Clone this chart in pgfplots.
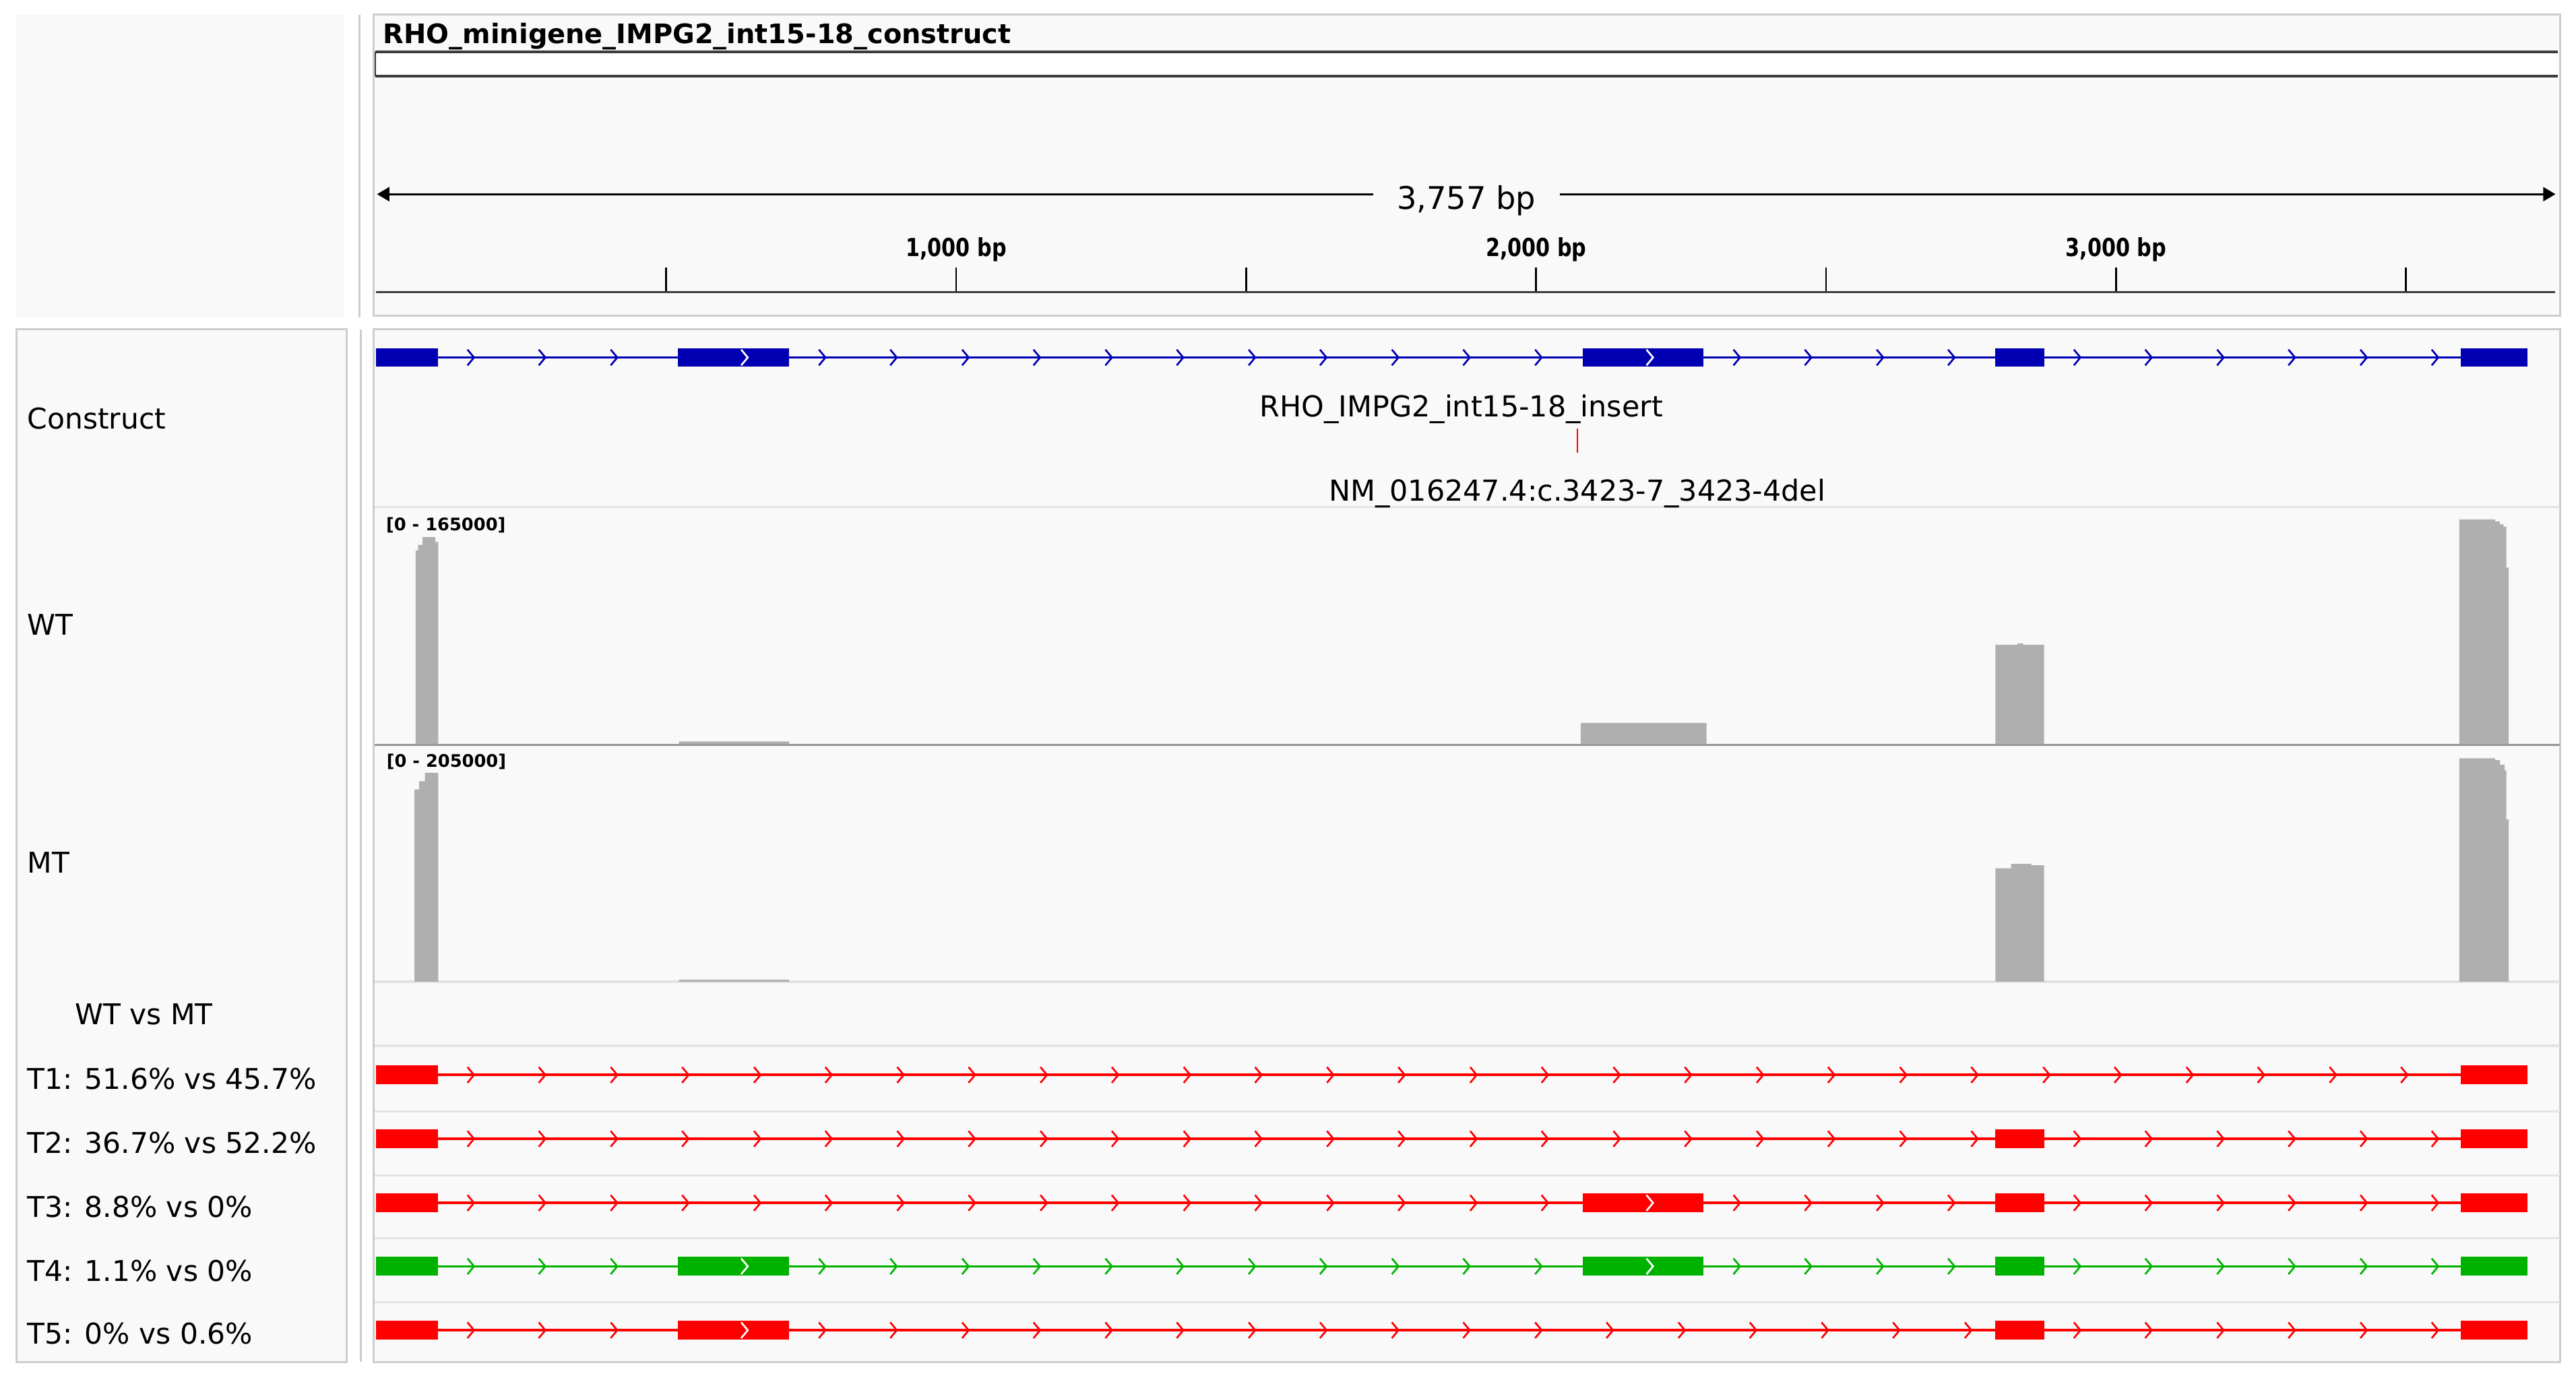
\documentclass[border=0pt]{standalone}
\usepackage{pgfplots}
\pgfplotsset{compat=1.18}
\usepackage{fontspec}
\setmainfont{DejaVu Sans}
\usepackage{graphicx}
\usetikzlibrary{arrows.meta}

\definecolor{panelbg}{RGB}{249,249,249}
\definecolor{panelline}{RGB}{205,205,205}
\definecolor{sepline}{RGB}{228,228,228}
\definecolor{basegray}{RGB}{150,150,150}
\definecolor{covgray}{RGB}{175,175,175}
\definecolor{idline}{RGB}{60,60,60}
\definecolor{igvblue}{RGB}{0,0,178}
\definecolor{igvred}{RGB}{255,0,0}
\definecolor{igvgreen}{RGB}{0,178,0}

\newcommand\labfont{\fontsize{9.9}{12}\selectfont}
\newcommand\featfont{\fontsize{10}{12}\selectfont}
\newcommand\titlefont{\bfseries\fontsize{9.3}{11}\selectfont}
\newcommand\spanfont{\fontsize{10.8}{13}\selectfont}
\newcommand\rulefont{\bfseries\fontsize{8.6}{10}\selectfont}
\newcommand\rangefont{\bfseries\fontsize{6}{7}\selectfont}

% the little ">" drawn along introns
\pgfdeclareplotmark{chev}{%
  \pgfpathmoveto{\pgfqpoint{-0.4mm}{0.96mm}}%
  \pgfpathlineto{\pgfqpoint{0.4mm}{0mm}}%
  \pgfpathlineto{\pgfqpoint{-0.4mm}{-0.96mm}}%
  \pgfusepathqstroke}

\pgfplotsset{
  trackbase/.style={scale only axis, width=265.24mm, xmin=0, xmax=3757,
    hide axis, clip=false, anchor=south west},
  genetrack/.style={trackbase, height=4mm, ymin=-1, ymax=1, unbounded coords=jump},
  intron/.style={line width=0.3mm, mark=none},
  exon/.style={line width=2.28mm, line cap=butt, mark=none},
  chevron/.style={only marks, mark=chev, mark options={solid, line width=0.22mm}},
}

\begin{document}
\begin{tikzpicture}
% layout in screen pixels of the 1568 px wide view
\begin{scope}[x=0.2mm,y=-0.2mm]
  \fill[white] (0,0) rectangle (1568,841);
  % panels
  \fill[panelbg] (10,9) rectangle (209,193);
  \draw[panelline, line width=0.24mm] (219,9) -- (219,193);
  \draw[panelline, fill=panelbg, line width=0.24mm] (227.5,9) rectangle (1558.5,192);
  \draw[panelline, fill=panelbg, line width=0.24mm] (10,200.5) rectangle (211,829);
  \draw[panelline, line width=0.24mm] (219.5,200.5) -- (219.5,829);
  \draw[panelline, fill=panelbg, line width=0.24mm] (227.5,200.5) rectangle (1558.5,829);

  % header
  \node[anchor=base west, inner sep=0, font=\titlefont] at (233,26.5)
    {RHO\_minigene\_IMPG2\_int15-18\_construct};
  \fill[white] (228.5,31.7) rectangle (1557,46.2);
  \draw[idline, line width=0.32mm] (228.5,31.7) -- (1557,31.7);
  \draw[idline, line width=0.32mm] (228.5,46.2) -- (1557,46.2);
  \draw[idline, line width=0.2mm] (228.5,31.7) -- (228.5,46.2);

  \draw[black, line width=0.26mm, -{Triangle[length=1.5mm,width=1.7mm]}] (836,118.2) -- (229.5,118.2);
  \draw[black, line width=0.26mm, -{Triangle[length=1.5mm,width=1.7mm]}] (949.6,118.2) -- (1555.5,118.2);
  \node[anchor=base, inner sep=0, font=\spanfont] at (892.5,127.2) {3,757 bp};

  \node[anchor=base, inner sep=0, font=\rulefont] at (582,155.9) {\scalebox{0.82}[1]{1,000 bp}};
  \node[anchor=base, inner sep=0, font=\rulefont] at (935,155.9) {\scalebox{0.82}[1]{2,000 bp}};
  \node[anchor=base, inner sep=0, font=\rulefont] at (1288,155.9) {\scalebox{0.82}[1]{3,000 bp}};

  % track separators
  \foreach \yy in {308.7,597.5,636.6,676.5,715.4,753.6,792.5}
    \draw[sepline, line width=0.28mm] (228,\yy) -- (1558,\yy);
  \draw[basegray, line width=0.26mm] (228,453.3) -- (1558,453.3);

  % track names
  \node[anchor=base west, inner sep=0, font=\labfont] at (16.3,260.9) {Construct};
  \node[anchor=base west, inner sep=0, font=\labfont] at (16.3,386.5) {WT};
  \node[anchor=base west, inner sep=0, font=\labfont] at (16.3,531.5) {MT};
  \node[anchor=base west, inner sep=0, font=\labfont] at (45.2,623.5) {WT vs MT};
  \node[anchor=base west, inner sep=0, font=\labfont] at (16.3,663.1) {T1: 51.6\% vs 45.7\%};
  \node[anchor=base west, inner sep=0, font=\labfont] at (16.3,702.1) {T2: 36.7\% vs 52.2\%};
  \node[anchor=base west, inner sep=0, font=\labfont] at (16.3,741.0) {T3: 8.8\% vs 0\%};
  \node[anchor=base west, inner sep=0, font=\labfont] at (16.3,780.0) {T4: 1.1\% vs 0\%};
  \node[anchor=base west, inner sep=0, font=\labfont] at (16.3,818.2) {T5: 0\% vs 0.6\%};

  % feature names
  \node[anchor=base, inner sep=0, font=\featfont] at (889.5,253.8) {RHO\_IMPG2\_int15-18\_insert};
  \node[anchor=base, inner sep=0, font=\featfont] at (960,305.1) {NM\_016247.4:c.3423-7\_3423-4del};
  \node[anchor=west, inner sep=0, font=\rangefont] at (234.7,319.6) {[0 - 165000]};
  \node[anchor=west, inner sep=0, font=\rangefont] at (235,463.5) {[0 - 205000]};

  \coordinate (rul) at (229,177.8);
  \coordinate (con) at (229,227.6);
  \coordinate (wt)  at (229,453);
  \coordinate (mt)  at (229,597.5);
  \coordinate (t1)  at (229,664.3);
  \coordinate (t2)  at (229,703.2);
  \coordinate (t3)  at (229,742.2);
  \coordinate (t4)  at (229,780.8);
  \coordinate (t5)  at (229,819.7);
\end{scope}

% ruler
\begin{axis}[scale only axis, width=265.24mm, height=3mm, xmin=0, xmax=3757, ymin=0, ymax=1,
  at={(rul)}, anchor=south west,
  axis x line*=bottom, axis y line=none,
  x axis line style={line width=0.32mm, draw=idline},
  xtick={500,1000,1500,2000,2500,3000,3500}, xticklabels={},
  tick align=inside, major tick length=3mm,
  xtick style={line width=0.22mm, black}]
  \addplot[draw=none] coordinates {(0,0)};
\end{axis}

% construct
\begin{axis}[genetrack, at={(con)}]
  \addplot[igvblue, intron] coordinates {(0,0) (3710,0)};
  \addplot[igvblue, exon] coordinates {(0,0) (106,0) (300,nan) (520,0) (712,0) (1500,nan)
    (2080,0) (2289,0) (2500,nan) (2792,0) (2876,0) (3200,nan) (3595,0) (3710,0)};
  \addplot[igvblue, chevron] coordinates {(163,0) (286,0) (410,0) (769,0) (892,0) (1016,0)
    (1139,0) (1263,0) (1386,0) (1510,0) (1633,0) (1757,0) (1880,0) (2004,0) (2346,0)
    (2469,0) (2593,0) (2716,0) (2933,0) (3056,0) (3180,0) (3303,0) (3427,0) (3550,0)};
  \addplot[white, chevron] coordinates {(635,0) (2196,0)};
  \addplot[igvred, line width=0.2mm] coordinates {(2071,-4.34) (2071,-5.79)};
\end{axis}

% WT coverage
\begin{axis}[trackbase, at={(wt)}, height=28.6mm, ymin=0, ymax=165000]
  \addplot[fill=covgray, draw=none, const plot] coordinates {(0,0) (68,136000) (72,140000)
    (80,145500) (102,142000) (107,0) (522,2000) (712,0) (2077,15000) (2294,0)
    (2792,69800) (2830,70800) (2840,69800) (2876,0) (3592,157900) (3654,156500)
    (3662,154500) (3668,152800) (3673,124000) (3677,0) (3757,0)} \closedcycle;
\end{axis}

% MT coverage
\begin{axis}[trackbase, at={(mt)}, height=28.5mm, ymin=0, ymax=205000]
  \addplot[fill=covgray, draw=none, const plot] coordinates {(0,0) (66,168300) (74,175500)
    (84,182900) (107,0) (522,1800) (712,0) (2792,99200) (2819,103000) (2854,101900)
    (2876,0) (3592,195600) (3654,194000) (3662,190000) (3670,185000) (3673,142000)
    (3677,0) (3757,0)} \closedcycle;
\end{axis}

% T1
\begin{axis}[genetrack, at={(t1)}]
  \addplot[igvred, intron] coordinates {(0,0) (3710,0)};
  \addplot[igvred, exon] coordinates {(0,0) (106,0) (2000,nan) (3595,0) (3710,0)};
  \addplot[igvred, chevron] coordinates {(163,0) (286,0) (410,0) (533,0) (657,0) (780,0)
    (904,0) (1027,0) (1151,0) (1274,0) (1398,0) (1521,0) (1645,0) (1768,0) (1892,0)
    (2015,0) (2139,0) (2262,0) (2386,0) (2509,0) (2633,0) (2756,0) (2880,0) (3003,0)
    (3127,0) (3250,0) (3374,0) (3497,0)};
\end{axis}

% T2
\begin{axis}[genetrack, at={(t2)}]
  \addplot[igvred, intron] coordinates {(0,0) (3710,0)};
  \addplot[igvred, exon] coordinates {(0,0) (106,0) (1500,nan) (2792,0) (2876,0) (3200,nan)
    (3595,0) (3710,0)};
  \addplot[igvred, chevron] coordinates {(163,0) (286,0) (410,0) (533,0) (657,0) (780,0)
    (904,0) (1027,0) (1151,0) (1274,0) (1398,0) (1521,0) (1645,0) (1768,0) (1892,0)
    (2015,0) (2139,0) (2262,0) (2386,0) (2509,0) (2633,0) (2756,0) (2933,0) (3056,0)
    (3180,0) (3303,0) (3427,0) (3550,0)};
\end{axis}

% T3
\begin{axis}[genetrack, at={(t3)}]
  \addplot[igvred, intron] coordinates {(0,0) (3710,0)};
  \addplot[igvred, exon] coordinates {(0,0) (106,0) (1000,nan) (2080,0) (2289,0) (2500,nan)
    (2792,0) (2876,0) (3200,nan) (3595,0) (3710,0)};
  \addplot[igvred, chevron] coordinates {(163,0) (286,0) (410,0) (533,0) (657,0) (780,0)
    (904,0) (1027,0) (1151,0) (1274,0) (1398,0) (1521,0) (1645,0) (1768,0) (1892,0)
    (2015,0) (2346,0) (2469,0) (2593,0) (2716,0) (2933,0) (3056,0) (3180,0) (3303,0)
    (3427,0) (3550,0)};
  \addplot[white, chevron] coordinates {(2196,0)};
\end{axis}

% T4
\begin{axis}[genetrack, at={(t4)}]
  \addplot[igvgreen, intron] coordinates {(0,0) (3710,0)};
  \addplot[igvgreen, exon] coordinates {(0,0) (106,0) (300,nan) (520,0) (712,0) (1500,nan)
    (2080,0) (2289,0) (2500,nan) (2792,0) (2876,0) (3200,nan) (3595,0) (3710,0)};
  \addplot[igvgreen, chevron] coordinates {(163,0) (286,0) (410,0) (769,0) (892,0) (1016,0)
    (1139,0) (1263,0) (1386,0) (1510,0) (1633,0) (1757,0) (1880,0) (2004,0) (2346,0)
    (2469,0) (2593,0) (2716,0) (2933,0) (3056,0) (3180,0) (3303,0) (3427,0) (3550,0)};
  \addplot[white, chevron] coordinates {(635,0) (2196,0)};
\end{axis}

% T5
\begin{axis}[genetrack, at={(t5)}]
  \addplot[igvred, intron] coordinates {(0,0) (3710,0)};
  \addplot[igvred, exon] coordinates {(0,0) (106,0) (300,nan) (520,0) (712,0) (1500,nan)
    (2792,0) (2876,0) (3200,nan) (3595,0) (3710,0)};
  \addplot[igvred, chevron] coordinates {(163,0) (286,0) (410,0) (769,0) (892,0) (1016,0)
    (1139,0) (1263,0) (1386,0) (1510,0) (1633,0) (1757,0) (1880,0) (2004,0) (2127,0)
    (2251,0) (2374,0) (2498,0) (2621,0) (2745,0) (2933,0) (3056,0) (3180,0) (3303,0)
    (3427,0) (3550,0)};
  \addplot[white, chevron] coordinates {(635,0)};
\end{axis}
\end{tikzpicture}
\end{document}
